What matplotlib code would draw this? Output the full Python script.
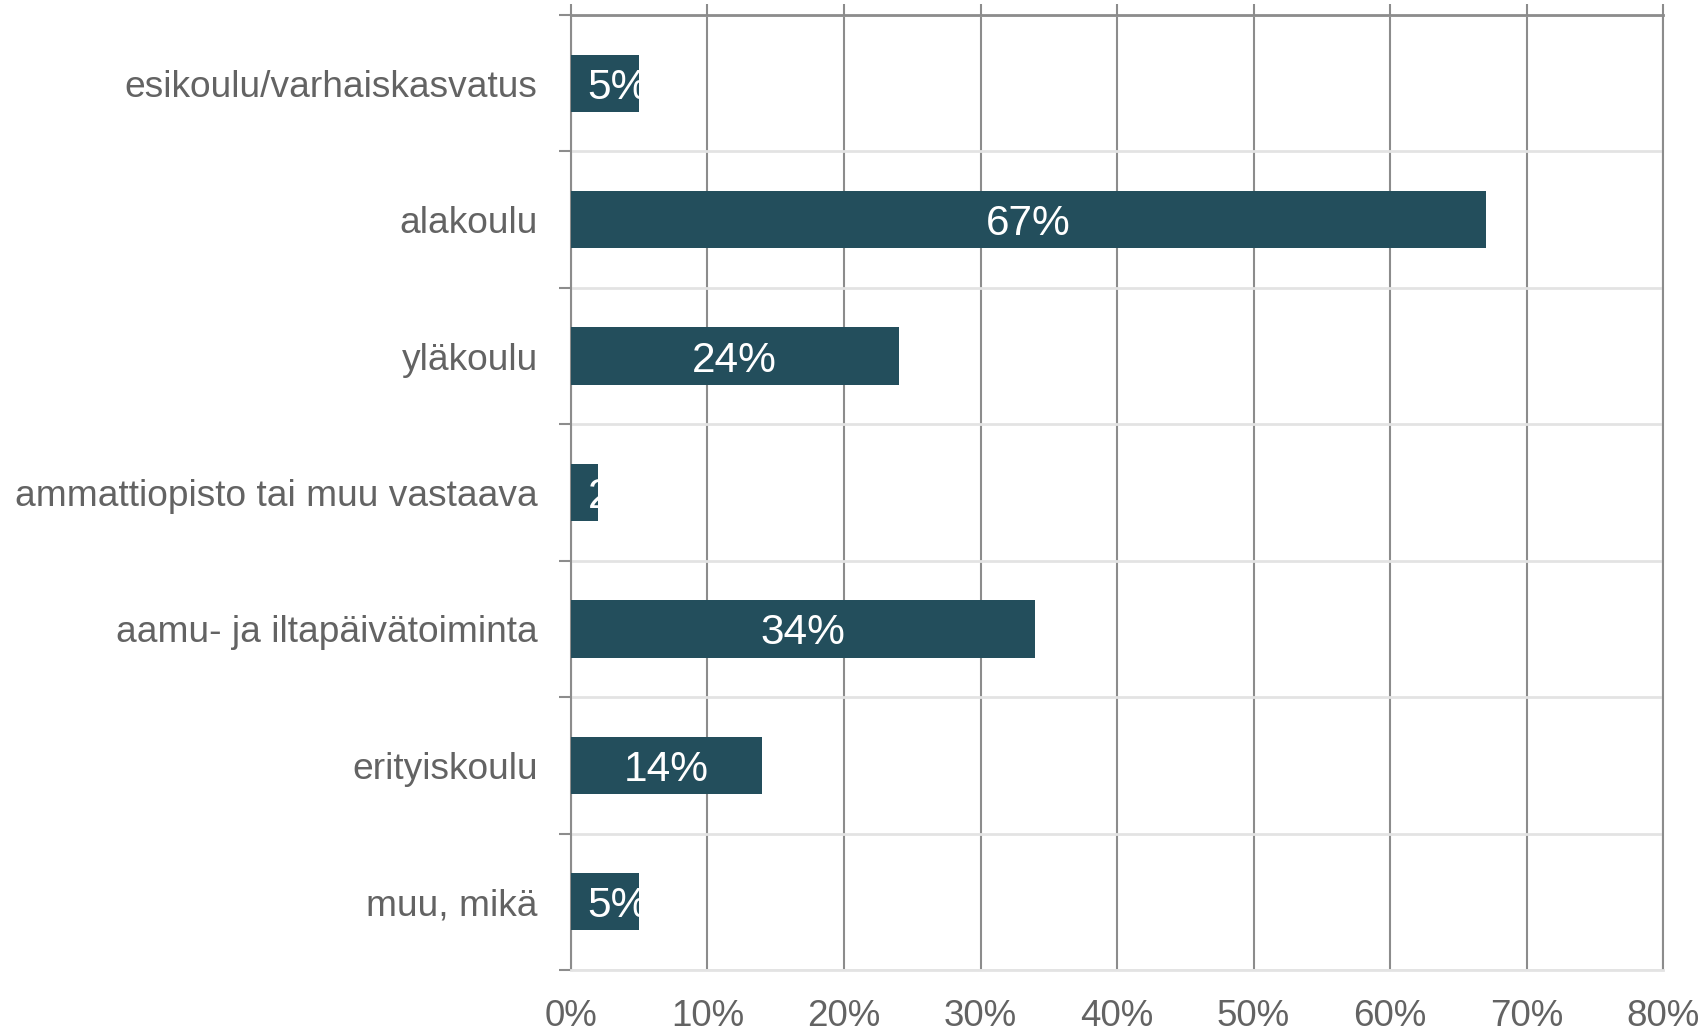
import matplotlib.pyplot as plt
import numpy as np
from matplotlib.ticker import FixedLocator, PercentFormatter

categories = ["esikoulu/varhaiskasvatus", "alakoulu", "yläkoulu",
              "ammattiopisto tai muu vastaava", "aamu- ja iltapäivätoiminta",
              "erityiskoulu", "muu, mikä"]
values = [5, 67, 24, 2, 34, 14, 5]
labels = ["5%", "67%", "24%", "2%", "34%", "14%", "5%"]

bar_color = "#234e5c"
text_gray = "#636363"
grid_dark = "#8c8c8c"
grid_light = "#e3e3e3"

plt.rcParams['font.family'] = ['Liberation Sans', 'DejaVu Sans']

fig = plt.figure(figsize=(17.08, 10.36), dpi=100)
ax = fig.add_axes([0.3343, 0.0637, 0.9737 - 0.3343, 0.9855 - 0.0637])

y = np.arange(len(categories))
bars = ax.barh(y, values, height=0.42, color=bar_color, zorder=3)

for bar, val, lab in zip(bars, values, labels):
    yc = bar.get_y() + bar.get_height() / 2
    if val < 10:
        # narrow bars: label starts just inside the bar and gets clipped
        t = ax.annotate(lab, (0, yc), xytext=(12, 0), textcoords="offset points",
                        ha="left", va="center_baseline", color="white",
                        fontsize=30.5, zorder=4)
    else:
        t = ax.text(val / 2, yc, lab, ha="center", va="center_baseline",
                    color="white", fontsize=30.5, zorder=4)
    t.set_clip_path(bar)

ax.set_xlim(0, 80)
ax.set_ylim(len(categories) - 0.5, -0.5)
ax.set_xticks(np.arange(0, 81, 10))
ax.xaxis.set_major_formatter(PercentFormatter(decimals=0))
ax.set_yticks(y)
ax.set_yticklabels(categories)
ax.yaxis.set_minor_locator(FixedLocator(np.arange(-0.5, len(categories), 1)))

ax.grid(axis="x", color=grid_dark, lw=1.5, zorder=1)
ax.grid(axis="y", which="minor", color=grid_light, lw=2, zorder=1)
ax.grid(axis="y", which="major", visible=False)

ax.tick_params(axis="x", top=True, bottom=False, labeltop=False, labelbottom=True,
               length=8, width=1.5, color=grid_dark, labelsize=26.5,
               labelcolor=text_gray, pad=13)
ax.tick_params(axis="y", which="major", length=0, labelsize=26.7,
               labelcolor=text_gray, pad=24)
ax.tick_params(axis="y", which="minor", length=8.5, width=1.5, color=grid_dark)

ax.spines["left"].set_color(grid_dark)
ax.spines["left"].set_linewidth(1.5)
ax.spines["right"].set_color(grid_dark)
ax.spines["right"].set_linewidth(1.5)
ax.spines["top"].set_color(grid_dark)
ax.spines["top"].set_linewidth(2)
ax.spines["bottom"].set_color(grid_light)
ax.spines["bottom"].set_linewidth(2)

fig.savefig("out.png", dpi=100)
